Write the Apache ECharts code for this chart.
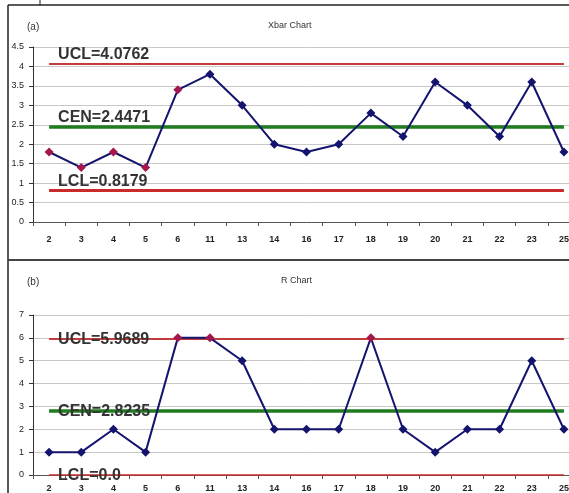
<!DOCTYPE html>
<html>
<head>
<meta charset="utf-8">
<script src="https://cdn.jsdelivr.net/npm/echarts@6/dist/echarts.min.js"></script>
<style>
  html,body{margin:0;padding:0;background:#fff;overflow:hidden;}
  #main{width:590px;height:493px;}
</style>
</head>
<body>
<div id="main"></div>
<script>
// sample numbers on x axis
const samples = ['2','3','4','5','6','11','13','14','16','17','18','19','20','21','22','23','25']
const xbarValues = [1.8,1.4,1.8,1.4,3.4,3.8,3.0,2.0,1.8,2.0,2.8,2.2,3.6,3.0,2.2,3.6,1.8]
const rangeValues = [1,1,2,1,6,6,5,2,2,2,6,2,1,2,2,5,2]
// points drawn in red
const xbarFlagged = ['2','3','4','5','6']
const rangeFlagged = ['6','11','18']
// control limits [UCL, CEN, LCL]
const xbarLimits = [4.0762, 2.4471, 0.8179]
const xbarLimitText = ['UCL=4.0762','CEN=2.4471','LCL=0.8179']
const rangeLimits = [5.9689, 2.8235, 0.0]
const rangeLimitText = ['UCL=5.9689','CEN=2.8235','LCL=0.0']

const navy = '#14146e'
const redPt = '#a3164e'

function points(vals, flagged){
  return vals.map((v,i)=>({
    value:v,
    itemStyle:{color: flagged.includes(samples[i]) ? redPt : navy}
  }))
}

function limitLines(limits, texts, onLine){
  const styles=[
    {color:'#c23b3b',width:2,type:'solid'},
    {color:'#1f7d1f',width:3.5,type:'solid'},
    {color:'#c92a2a',width:onLine?1.5:3,type:'solid'}
  ]
  return limits.map((v,i)=>[
    {
      coord:[0,v],
      lineStyle:styles[i],
      label:{
        show:true,
        formatter:texts[i],
        position:'insideStartTop',
        distance:onLine?[9,-9]:[9,1],
        color:'#333',
        fontSize:16,
        fontWeight:'bold',
        fontFamily:'Liberation Sans, Arial, sans-serif'
      }
    },
    {coord:[samples.length-1,v]}
  ])
}

const myChart=echarts.init(document.querySelector('#main'),null,{renderer:'canvas'})

const xAxisBase={
  type:'category',
  data:samples,
  boundaryGap:true,
  axisLine:{lineStyle:{color:'#555',width:1}},
  axisTick:{show:true,length:4,lineStyle:{color:'#555'}},
  axisLabel:{color:'#222',fontSize:9,fontWeight:'bold',fontFamily:'Liberation Sans, Arial, sans-serif'}
}
const yAxisBase={
  type:'value',
  axisLine:{show:true,lineStyle:{color:'#333'}},
  axisTick:{show:true,length:4,lineStyle:{color:'#333'}},
  axisLabel:{color:'#222',fontSize:9,margin:9,fontFamily:'Liberation Sans, Arial, sans-serif'},
  splitLine:{show:true,lineStyle:{color:'#c8c8c8',width:1}}
}

const option={
  animation:false,
  backgroundColor:'#fff',
  title:[
    {text:'(a)',left:22,top:17,textStyle:{fontSize:10,fontWeight:'normal',color:'#333',fontFamily:'Liberation Sans, Arial, sans-serif'}},
    {text:'Xbar Chart',left:263,top:16,textStyle:{fontSize:9,fontWeight:'normal',color:'#333',fontFamily:'Liberation Sans, Arial, sans-serif'}},
    {text:'(b)',left:22,top:272,textStyle:{fontSize:10,fontWeight:'normal',color:'#333',fontFamily:'Liberation Sans, Arial, sans-serif'}},
    {text:'R Chart',left:276,top:271,textStyle:{fontSize:9,fontWeight:'normal',color:'#333',fontFamily:'Liberation Sans, Arial, sans-serif'}}
  ],
  grid:[
    {left:33,top:47,width:547,height:175},
    {left:33,top:315,width:547,height:164}
  ],
  xAxis:[
    Object.assign({},xAxisBase,{gridIndex:0,axisLabel:Object.assign({},xAxisBase.axisLabel,{margin:13})}),
    Object.assign({},xAxisBase,{gridIndex:1,axisLabel:Object.assign({},xAxisBase.axisLabel,{margin:9})})
  ],
  yAxis:[
    Object.assign({},yAxisBase,{gridIndex:0,min:0,max:4.5,interval:0.5}),
    Object.assign({},yAxisBase,{gridIndex:1,min:0,max:7,interval:1})
  ],
  series:[
    {
      name:'Xbar',type:'line',xAxisIndex:0,yAxisIndex:0,
      data:points(xbarValues,xbarFlagged),
      symbol:'diamond',symbolSize:9,
      lineStyle:{color:navy,width:2},
      z:5,
      markLine:{symbol:'none',silent:true,z:3,data:limitLines(xbarLimits,xbarLimitText,false)}
    },
    {
      name:'R',type:'line',xAxisIndex:1,yAxisIndex:1,
      data:points(rangeValues,rangeFlagged),
      symbol:'diamond',symbolSize:9,
      lineStyle:{color:navy,width:2},
      z:5,
      markLine:{symbol:'none',silent:true,z:3,data:limitLines(rangeLimits,rangeLimitText,true)}
    }
  ],
  graphic:[
    {type:'line',shape:{x1:8,y1:5,x2:590,y2:5},style:{stroke:'#222',lineWidth:1.5}},
    {type:'line',shape:{x1:40,y1:0,x2:40,y2:5},style:{stroke:'#222',lineWidth:1}},
    {type:'line',shape:{x1:8,y1:5,x2:8,y2:493},style:{stroke:'#222',lineWidth:1.5}},
    {type:'line',shape:{x1:8,y1:260,x2:590,y2:260},style:{stroke:'#444',lineWidth:2}}
  ]
}

myChart.setOption(option)
</script>
</body>
</html>
